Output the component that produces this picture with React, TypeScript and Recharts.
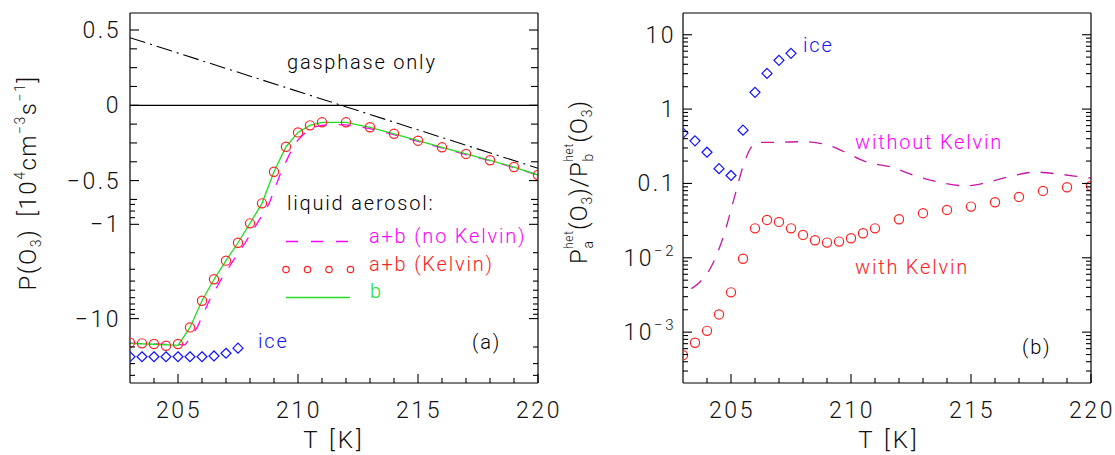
import React from 'react';
import { ComposedChart, Line, Scatter, XAxis, YAxis, ReferenceLine } from 'recharts';

const FONT = "Roboto, 'DejaVu Sans', sans-serif";

// ---------- Panel (a) data ----------
const kelvinA_T = [203, 203.5, 204, 204.5, 205, 205.5, 206, 206.5, 207, 207.5, 208, 208.5, 209, 209.5, 210, 210.5, 211, 212, 213, 214, 215, 216, 217, 218, 219, 220];
const kelvinA_P = [-18.0, -18.3, -18.6, -19.4, -18.6, -12.4, -6.46, -3.83, -2.43, -1.57, -0.985, -0.684, -0.441, -0.275, -0.18, -0.133, -0.113, -0.113, -0.146, -0.189, -0.235, -0.279, -0.323, -0.365, -0.41, -0.463];

const bA_T = [203, 204, 205, 205.5, 206, 206.5, 207, 207.5, 208, 208.5, 209, 209.5, 210, 210.5, 211, 212, 213, 214, 215, 216, 217, 218, 219, 220];
const bA_P = [-18.3, -18.7, -19.2, -12.4, -6.46, -3.83, -2.43, -1.57, -0.985, -0.684, -0.441, -0.275, -0.18, -0.133, -0.113, -0.113, -0.146, -0.189, -0.235, -0.279, -0.323, -0.365, -0.41, -0.463];

const noKelvinA_T = [203, 204, 205, 205.3, 205.8, 206.3, 206.8, 207.3, 207.8, 208.3, 208.8, 209.3, 209.8, 210, 210.5, 211, 211.5, 212, 213, 214, 215, 216, 217, 218, 219, 220];
const noKelvinA_P = [-18.2, -18.6, -18.9, -19.0, -12.4, -6.46, -3.83, -2.43, -1.57, -0.985, -0.684, -0.441, -0.275, -0.23, -0.15, -0.133, -0.127, -0.13, -0.155, -0.195, -0.24, -0.283, -0.327, -0.368, -0.413, -0.465];

const iceA_T = [203, 203.5, 204, 204.5, 205, 205.5, 206, 206.5, 207, 207.5];
const iceA_P = [-25.4, -25.4, -25.4, -25.4, -25.4, -25.4, -25.4, -24.9, -23.3, -20.6];

const gasA_T = [203, 220];
const gasA_P = [0.449, -0.418];

const aMajorTicks = [0.5, 0, -0.5, -1, -10];
const aMajorLabels = ['0.5', '0', '\u22120.5', '\u22121', '\u221210'];
const aMinorLinTicks = [0.375, 0.25, 0.125, -0.125, -0.25, -0.375, -0.625];
const aMinorLogTicks = [-0.7, -0.8, -0.9, -2, -3, -4, -5, -6, -7, -8, -9, -20, -30, -40];

// ---------- Panel (b) data ----------
const kelvinB_T = [203, 203.5, 204, 204.5, 205, 205.5, 206, 206.5, 207, 207.5, 208, 208.5, 209, 209.5, 210, 210.5, 211, 212, 213, 214, 215, 216, 217, 218, 219, 220];
const kelvinB_R = [4.9e-4, 7.2e-4, 1.04e-3, 1.73e-3, 3.43e-3, 9.7e-3, 0.0249, 0.0323, 0.0304, 0.0249, 0.0203, 0.0172, 0.016, 0.0165, 0.0183, 0.0214, 0.0249, 0.033, 0.0398, 0.044, 0.0488, 0.0559, 0.0659, 0.0794, 0.089, 0.0927];

const iceB_T = [203, 203.5, 204, 204.5, 205, 205.5, 206, 206.5, 207, 207.5];
const iceB_R = [0.475, 0.374, 0.263, 0.158, 0.128, 0.521, 1.68, 3.02, 4.52, 5.62];

const noKelvinB_T = [203.35, 203.7, 204.1, 204.68, 205.15, 205.5, 205.86, 206.1, 207, 208, 209, 209.7, 210.6, 211.7, 212.7, 213.8, 214.8, 215.8, 216.8, 217.7, 218.7, 219.8, 220];
const noKelvinB_R = [3.85e-3, 4.7e-3, 6.85e-3, 0.0192, 0.0665, 0.169, 0.314, 0.356, 0.358, 0.364, 0.33, 0.269, 0.197, 0.165, 0.126, 0.102, 0.0927, 0.106, 0.128, 0.142, 0.133, 0.12, 0.118];

const bMajorTicks = [1e-3, 1e-2, 0.1, 1, 10];
const bMinorMult = [2, 3, 4, 5, 6, 7, 8, 9];
const bDecades = [1e-4, 1e-3, 1e-2, 0.1, 1];

// ---------- axis / scale helpers ----------
const X_MAJOR = [205, 210, 215, 220];
const X_ALL = [204, 205, 206, 207, 208, 209, 210, 211, 212, 213, 214, 215, 216, 217, 218, 219, 220];

const LIN = 150.6;
function tfA(v: number): number {
  if (v >= -0.625) return v * LIN;
  const a = -v;
  if (a <= 1) return -94.125 - ((a - 0.625) / 0.375) * 24.9;
  return -119 - 94.3 * Math.log10(a);
}
const A_DOMAIN = [-277.7, 92.3];
const B_DOMAIN = [2.07e-4, 19.6];

const zip = (xs: number[], ys: number[], f: (v: number) => number = (v) => v) =>
  xs.map((x, i) => ({ x, y: f(ys[i]) }));

const kA = (v: number) => v.toFixed(4);

type TickInfo = { len: number; label?: React.ReactNode };
const aTickMap = new Map<string, TickInfo>();
aMajorTicks.forEach((v, i) => aTickMap.set(kA(tfA(v)), { len: 9, label: aMajorLabels[i] }));
aMinorLinTicks.forEach((v) => aTickMap.set(kA(tfA(v)), { len: 7 }));
aMinorLogTicks.forEach((v) => aTickMap.set(kA(tfA(v)), { len: 5 }));
const aTicks = [...aMajorTicks, ...aMinorLinTicks, ...aMinorLogTicks].map(tfA);

const bTickMap = new Map<string, TickInfo>();
const bTicks: number[] = [];
const kB = (v: number) => v.toPrecision(4);
bDecades.forEach((d) => {
  bMinorMult.forEach((m) => {
    const v = d * m;
    if (v > B_DOMAIN[0] && v < B_DOMAIN[1]) {
      bTicks.push(v);
      bTickMap.set(kB(v), { len: 5 });
    }
  });
});
const supLabel = (exp: string) => (
  <>
    <tspan>10</tspan>
    <tspan fontSize={15} dy={-10}>{exp}</tspan>
  </>
);
const bMajorLabels: React.ReactNode[] = [supLabel('\u22123'), supLabel('\u22122'), '0.1', '1', '10'];
bMajorTicks.forEach((v, i) => {
  bTicks.push(v);
  bTickMap.set(kB(v), { len: 9, label: bMajorLabels[i] });
});

const tickText = { fontFamily: FONT, fontWeight: 300, fontSize: 23, letterSpacing: 2.5, fill: '#111' } as const;

const xTick = (side: 'bottom' | 'top') => (props: any) => {
  const { x, y, payload } = props;
  const v = payload.value as number;
  const major = X_MAJOR.includes(v);
  const len = major ? 9 : 5;
  const dir = side === 'bottom' ? -1 : 1;
  return (
    <g>
      <line x1={x} x2={x} y1={y} y2={y + dir * len} stroke="#000" strokeWidth={1.1} />
      {side === 'bottom' && major && (
        <text x={x + 1} y={y + 35} textAnchor="middle" {...tickText}>
          {v}
        </text>
      )}
    </g>
  );
};

const yTick = (map: Map<string, TickInfo>, keyf: (v: number) => string, side: 'left' | 'right', gap: number) => (props: any) => {
  const { x, y, payload } = props;
  const info = map.get(keyf(payload.value));
  if (!info) return <g />;
  const dir = side === 'left' ? 1 : -1;
  return (
    <g>
      <line x1={x} x2={x + dir * info.len} y1={y} y2={y} stroke="#000" strokeWidth={1.1} />
      {side === 'left' && info.label !== undefined && (
        <text x={x - gap} y={y + 8} textAnchor="end" {...tickText}>
          {info.label}
        </text>
      )}
    </g>
  );
};

const circleShape = (r: number, color: string) => (props: any) => (
  <circle cx={props.cx} cy={props.cy} r={r} fill="none" stroke={color} strokeWidth={1.2} />
);
const diamondShape = (h: number, color: string) => (props: any) => {
  const { cx, cy } = props;
  return (
    <path
      d={`M${cx},${cy - h} L${cx + h},${cy} L${cx},${cy + h} L${cx - h},${cy} Z`}
      fill="none"
      stroke={color}
      strokeWidth={1.2}
    />
  );
};

const axisLine = { stroke: '#000', strokeWidth: 1.2 };

const RED = '#ff2020';
const BLUE = '#1010ff';
const MAGENTA = '#ff00ff';
const DARKMAG = '#c418a4';
const GREEN = '#22dd22';

function PanelA() {
  return (
    <ComposedChart width={600} height={455} margin={{ top: 12, right: 61, bottom: 71, left: 129 }}>
      <XAxis xAxisId={0} type="number" dataKey="x" domain={[203, 220]} allowDataOverflow ticks={X_ALL} interval={0}
        tickSize={0} tickMargin={0} height={1} axisLine={axisLine} tickLine={false} tick={xTick('bottom')} />
      <XAxis xAxisId="top" orientation="top" type="number" domain={[203, 220]} allowDataOverflow ticks={X_ALL} interval={0}
        tickSize={0} tickMargin={0} height={1} axisLine={axisLine} tickLine={false} tick={xTick('top')} />
      <YAxis yAxisId={0} type="number" dataKey="y" domain={A_DOMAIN} allowDataOverflow ticks={aTicks} interval={0}
        tickSize={0} tickMargin={0} width={1} axisLine={axisLine} tickLine={false} tick={yTick(aTickMap, kA, 'left', 9)} />
      <YAxis yAxisId="r" orientation="right" type="number" domain={A_DOMAIN} allowDataOverflow ticks={aTicks} interval={0}
        tickSize={0} tickMargin={0} width={1} axisLine={axisLine} tickLine={false} tick={yTick(aTickMap, kA, 'right', 9)} />
      <ReferenceLine y={0} stroke="#000" strokeWidth={1.2} />
      <Line data={zip(gasA_T, gasA_P, tfA)} dataKey="y" type="linear" stroke="#000" strokeWidth={1.1}
        strokeDasharray="16 5 2 5" dot={false} isAnimationActive={false} />
      <Line data={zip(noKelvinA_T, noKelvinA_P, tfA)} dataKey="y" type="linear" stroke={MAGENTA} strokeWidth={1.3}
        strokeDasharray="12 12" dot={false} isAnimationActive={false} />
      <Scatter data={zip(kelvinA_T, kelvinA_P, tfA)} shape={circleShape(4.6, RED)} isAnimationActive={false} />
      <Line data={zip(bA_T, bA_P, tfA)} dataKey="y" type="linear" stroke={GREEN} strokeWidth={1.3}
        dot={false} isAnimationActive={false} />
      <Scatter data={zip(iceA_T, iceA_P, tfA)} shape={diamondShape(5, BLUE)} isAnimationActive={false} />
    </ComposedChart>
  );
}

function PanelB() {
  return (
    <ComposedChart width={555} height={455} margin={{ top: 12, right: 23, bottom: 71, left: 122 }}>
      <XAxis xAxisId={0} type="number" dataKey="x" domain={[203, 220]} allowDataOverflow ticks={X_ALL} interval={0}
        tickSize={0} tickMargin={0} height={1} axisLine={axisLine} tickLine={false} tick={xTick('bottom')} />
      <XAxis xAxisId="top" orientation="top" type="number" domain={[203, 220]} allowDataOverflow ticks={X_ALL} interval={0}
        tickSize={0} tickMargin={0} height={1} axisLine={axisLine} tickLine={false} tick={xTick('top')} />
      <YAxis yAxisId={0} type="number" dataKey="y" scale="log" domain={B_DOMAIN} allowDataOverflow ticks={bTicks} interval={0}
        tickSize={0} tickMargin={0} width={1} axisLine={axisLine} tickLine={false} tick={yTick(bTickMap, kB, 'left', 7)} />
      <YAxis yAxisId="r" orientation="right" type="number" scale="log" domain={B_DOMAIN} allowDataOverflow ticks={bTicks} interval={0}
        tickSize={0} tickMargin={0} width={1} axisLine={axisLine} tickLine={false} tick={yTick(bTickMap, kB, 'right', 7)} />
      <Line data={zip(noKelvinB_T, noKelvinB_R)} dataKey="y" type="monotone" stroke={DARKMAG} strokeWidth={1.3}
        strokeDasharray="13 11" dot={false} isAnimationActive={false} />
      <Scatter data={zip(kelvinB_T, kelvinB_R)} shape={circleShape(4.6, RED)} isAnimationActive={false} />
      <Scatter data={zip(iceB_T, iceB_R)} shape={diamondShape(5, BLUE)} isAnimationActive={false} />
    </ComposedChart>
  );
}

const annot = { fontFamily: FONT, fontWeight: 300, fontSize: 20, letterSpacing: 1.8 } as const;

function Overlay() {
  return (
    <svg width={1115} height={455} style={{ position: 'absolute', left: 0, top: 0, pointerEvents: 'none' }}>
      {/* panel a annotations */}
      <text x={287} y={69} fill="#000" {...annot}>gasphase only</text>
      <text x={287} y={210} fill="#000" {...annot}>liquid aerosol:</text>
      <line x1={286} x2={350} y1={241.5} y2={241.5} stroke={MAGENTA} strokeWidth={1.3} strokeDasharray="12 13" />
      <text x={369} y={243} fill={MAGENTA} {...annot}>a+b (no Kelvin)</text>
      {[286, 307.5, 329, 350.5].map((cx) => (
        <circle key={cx} cx={cx} cy={269.5} r={3.2} fill="none" stroke={RED} strokeWidth={1.2} />
      ))}
      <text x={369} y={271} fill={RED} {...annot}>a+b (Kelvin)</text>
      <line x1={286} x2={350} y1={297.5} y2={297.5} stroke={GREEN} strokeWidth={1.3} />
      <text x={370} y={298} fill={GREEN} {...annot}>b</text>
      <text x={258} y={348} fill={BLUE} {...annot}>ice</text>
      <text x={472} y={349} fill="#000" {...annot}>(a)</text>

      {/* panel b annotations */}
      <text x={803} y={52} fill={BLUE} {...annot}>ice</text>
      <text x={855} y={149} fill={MAGENTA} {...annot}>without Kelvin</text>
      <text x={855} y={274} fill={RED} {...annot}>with Kelvin</text>
      <text x={1022} y={354} fill="#000" {...annot}>(b)</text>

      {/* axis titles */}
      <text x={334} y={448} textAnchor="middle" fontFamily={FONT} fontWeight={300} fontSize={24} letterSpacing={3} fill="#111">T [K]</text>
      <text x={889} y={448} textAnchor="middle" fontFamily={FONT} fontWeight={300} fontSize={24} letterSpacing={3} fill="#111">T [K]</text>

      <text transform="translate(36,183) rotate(-90)" textAnchor="middle" fontFamily={FONT} fontWeight={300} fontSize={24} letterSpacing={1.5} fill="#111">
        <tspan>P(O</tspan>
        <tspan fontSize={14} dy={5}>3</tspan>
        <tspan dy={-5}>)</tspan>
        <tspan dx={12}>[10</tspan>
        <tspan fontSize={14} dy={-11}>4</tspan>
        <tspan dy={11}>cm</tspan>
        <tspan fontSize={14} dy={-11}>{'\u22123'}</tspan>
        <tspan dy={11}>s</tspan>
        <tspan fontSize={14} dy={-11}>{'\u22121'}</tspan>
        <tspan dy={11}>]</tspan>
      </text>

      <text transform="translate(587,182) rotate(-90)" textAnchor="middle" fontFamily={FONT} fontWeight={300} fontSize={24} letterSpacing={0.8} fill="#111">
        <tspan>P</tspan>
        <tspan fontSize={14} dy={6}>a</tspan>
        <tspan fontSize={12} dx={-9} dy={-20}>het</tspan>
        <tspan dy={14}>(O</tspan>
        <tspan fontSize={14} dy={5}>3</tspan>
        <tspan dy={-5}>)/P</tspan>
        <tspan fontSize={14} dy={6}>b</tspan>
        <tspan fontSize={12} dx={-9} dy={-20}>het</tspan>
        <tspan dy={14}>(O</tspan>
        <tspan fontSize={14} dy={5}>3</tspan>
        <tspan dy={-5}>)</tspan>
      </text>
    </svg>
  );
}

export default function App() {
  return (
    <div style={{ position: 'absolute', left: 0, top: 0, width: 1115, height: 455, background: '#fff' }}>
      <div style={{ position: 'absolute', left: 0, top: 0 }}>
        <PanelA />
      </div>
      <div style={{ position: 'absolute', left: 560, top: 0 }}>
        <PanelB />
      </div>
      <Overlay />
    </div>
  );
}
